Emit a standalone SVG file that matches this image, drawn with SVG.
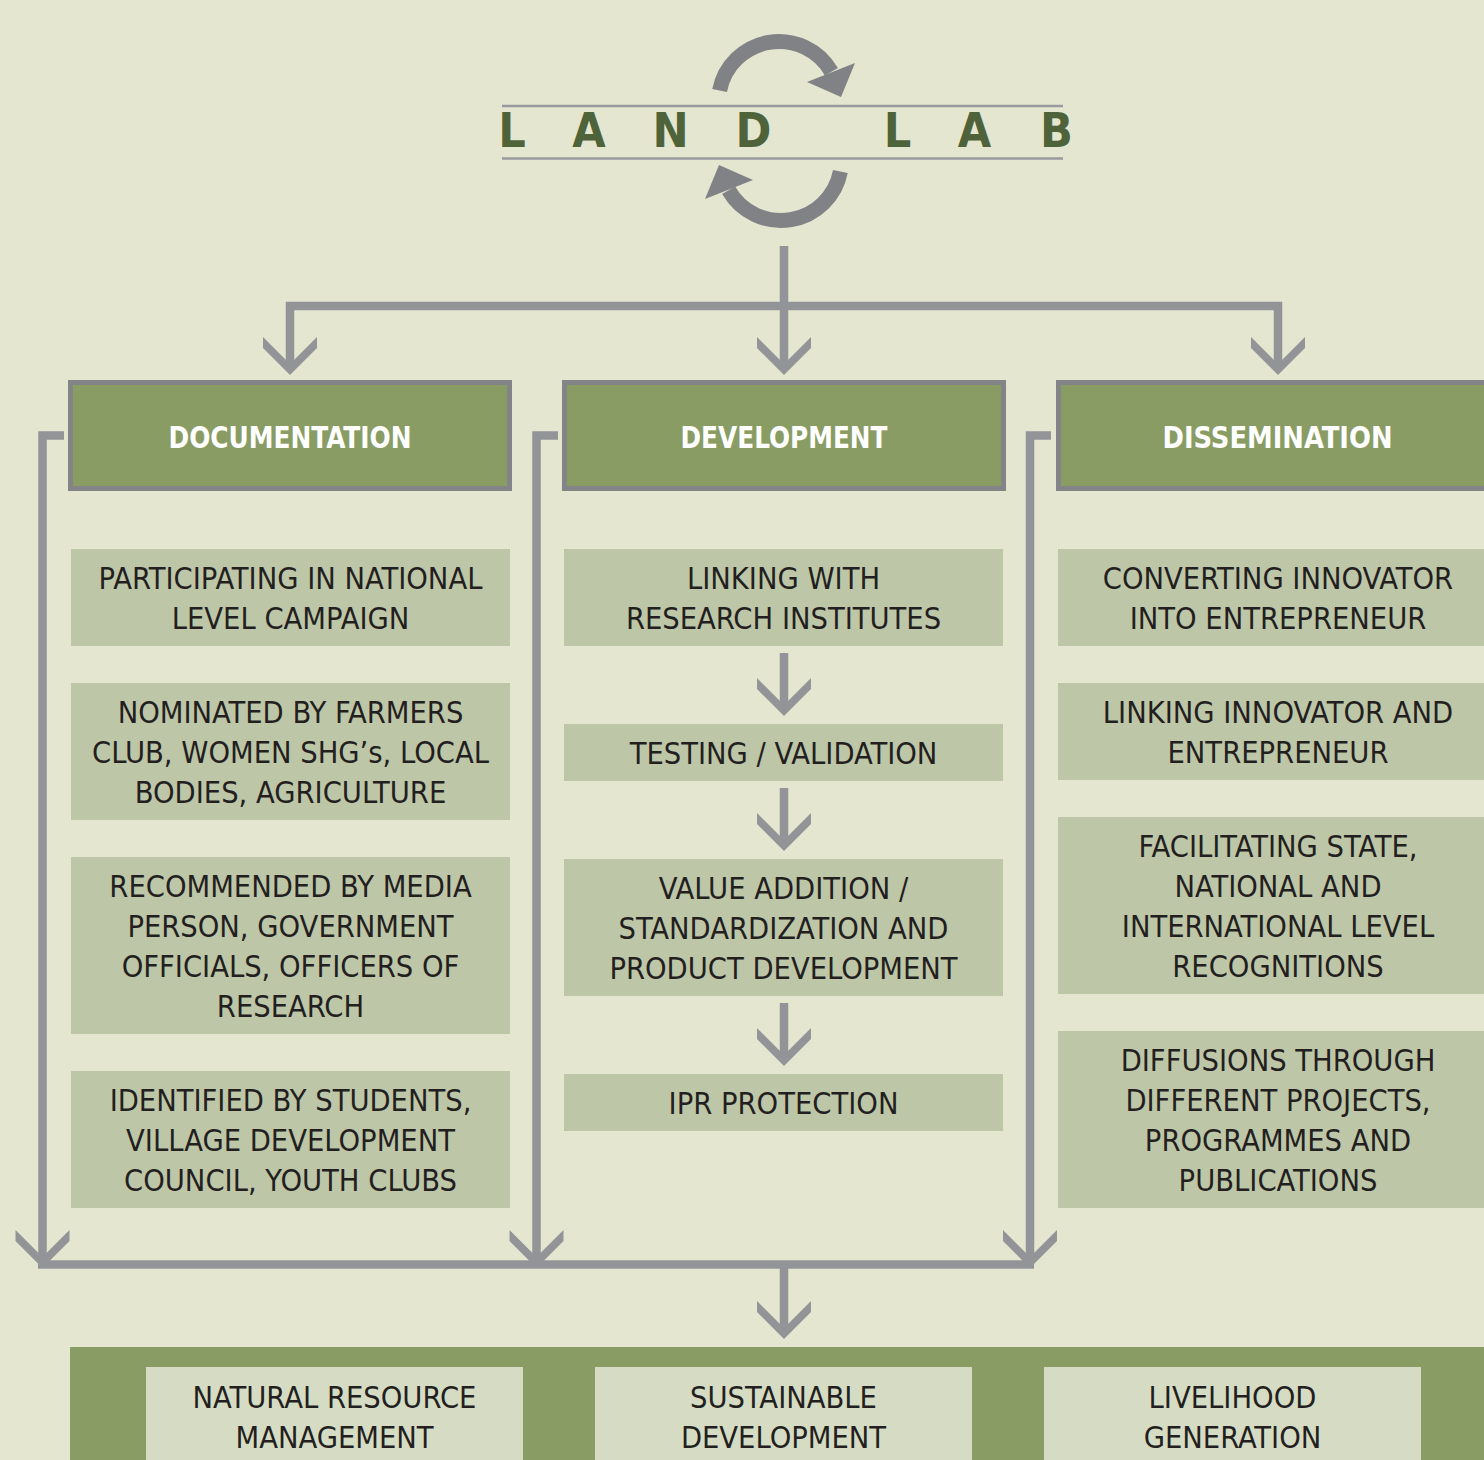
<svg xmlns="http://www.w3.org/2000/svg" width="1484" height="1460" viewBox="0 0 1484 1460">
<style>
.bg{fill:#e4e6d0}
.hdr{fill:#899c63;stroke:#838488;stroke-width:5}
.box{fill:#bec6a8}
.band{fill:#899c63}
.out{fill:#d6dcc4}
.ln{stroke:#939498;stroke-width:8.5;fill:none}
.ah{fill:#939498}
.arc{stroke:#818286;stroke-width:15;fill:none}
.arch{fill:#818286}
.rule{stroke:#999a9d;stroke-width:2.5}
.t{font-family:"DejaVu Sans Condensed","DejaVu Sans",sans-serif;font-stretch:condensed;font-size:30.5px;fill:#231f20;text-anchor:middle}
.h{font-family:"DejaVu Sans Condensed","DejaVu Sans",sans-serif;font-stretch:condensed;font-weight:bold;font-size:31px;fill:#ffffff;text-anchor:middle}
.logo{font-family:"DejaVu Sans Condensed","DejaVu Sans",sans-serif;font-stretch:condensed;font-weight:bold;font-size:48px;fill:#4e6339;text-anchor:middle}
</style>
<defs>
<polygon id="chev" class="ah" points="-27,-38 0,-11 27,-38 27,-27 0,0 -27,-27"/>
</defs>
<rect class="bg" x="0" y="0" width="1484" height="1460"/>

<g id="logo">
<line class="rule" x1="502" y1="106" x2="1063" y2="106"/>
<line class="rule" x1="502" y1="158.5" x2="1063" y2="158.5"/>
<text class="logo" x="512 589 670.5 753.5 897.5 974.5 1056.5" y="147">LANDLAB</text>
<g id="cycle-top">
<path class="arc" d="M719.6 90.5 A60.5 60.5 0 0 1 831.4 71.75"/>
<polygon class="arch" points="807,82 855,63 841,97"/>
</g>
<g id="cycle-bottom" transform="rotate(180 780 131)">
<path class="arc" d="M719.6 90.5 A60.5 60.5 0 0 1 831.4 71.75"/>
<polygon class="arch" points="807,82 855,63 841,97"/>
</g>
</g>

<g id="connectors">
<line class="ln" x1="784" y1="246" x2="784" y2="306"/>
<polyline class="ln" points="290,366 290,306 1278,306 1278,366"/>
<line class="ln" x1="784" y1="306" x2="784" y2="366"/>
<use href="#chev" x="290" y="375"/>
<use href="#chev" x="784" y="375"/>
<use href="#chev" x="1278" y="375"/>

<polyline class="ln" points="64,435.5 42.5,435.5 42.5,1260"/>
<polyline class="ln" points="558,435.5 536.5,435.5 536.5,1260"/>
<polyline class="ln" points="1051,435.5 1030,435.5 1030,1260"/>
<line class="ln" x1="38" y1="1264.5" x2="1034" y2="1264.5"/>
<use href="#chev" x="42.5" y="1268"/>
<use href="#chev" x="536.5" y="1268"/>
<use href="#chev" x="1030" y="1268"/>
<line class="ln" x1="784" y1="1264" x2="784" y2="1330"/>
<use href="#chev" x="784" y="1339"/>

<line class="ln" x1="784" y1="653" x2="784" y2="707"/>
<use href="#chev" x="784" y="716"/>
<line class="ln" x1="784" y1="788" x2="784" y2="842"/>
<use href="#chev" x="784" y="851"/>
<line class="ln" x1="784" y1="1003" x2="784" y2="1057"/>
<use href="#chev" x="784" y="1066"/>
</g>

<g id="documentation">
<rect class="hdr" x="70.5" y="382.5" width="439" height="106"/>
<text class="h" x="290" y="448" textLength="243" lengthAdjust="spacingAndGlyphs">DOCUMENTATION</text>
</g>
<g id="development">
<rect class="hdr" x="564.5" y="382.5" width="439" height="106"/>
<text class="h" x="784" y="448" textLength="207" lengthAdjust="spacingAndGlyphs">DEVELOPMENT</text>
</g>
<g id="dissemination">
<rect class="hdr" x="1058.5" y="382.5" width="439" height="106"/>
<text class="h" x="1277.5" y="448" textLength="230" lengthAdjust="spacingAndGlyphs">DISSEMINATION</text>
</g>

<g id="doc-1">
<rect class="box" x="71" y="549" width="439" height="97"/>
<text class="t" x="290.5" y="589">PARTICIPATING IN NATIONAL</text>
<text class="t" x="290.5" y="629">LEVEL CAMPAIGN</text>
</g>
<g id="doc-2">
<rect class="box" x="71" y="683" width="439" height="137"/>
<text class="t" x="290.5" y="723">NOMINATED BY FARMERS</text>
<text class="t" x="290.5" y="763">CLUB, WOMEN SHG’s, LOCAL</text>
<text class="t" x="290.5" y="803">BODIES, AGRICULTURE</text>
</g>
<g id="doc-3">
<rect class="box" x="71" y="857" width="439" height="177"/>
<text class="t" x="290.5" y="897">RECOMMENDED BY MEDIA</text>
<text class="t" x="290.5" y="937">PERSON, GOVERNMENT</text>
<text class="t" x="290.5" y="977">OFFICIALS, OFFICERS OF</text>
<text class="t" x="290.5" y="1017">RESEARCH</text>
</g>
<g id="doc-4">
<rect class="box" x="71" y="1071" width="439" height="137"/>
<text class="t" x="290.5" y="1111">IDENTIFIED BY STUDENTS,</text>
<text class="t" x="290.5" y="1151">VILLAGE DEVELOPMENT</text>
<text class="t" x="290.5" y="1191">COUNCIL, YOUTH CLUBS</text>
</g>

<g id="dev-1">
<rect class="box" x="564" y="549" width="439" height="97"/>
<text class="t" x="783.5" y="589">LINKING WITH</text>
<text class="t" x="783.5" y="629">RESEARCH INSTITUTES</text>
</g>
<g id="dev-2">
<rect class="box" x="564" y="724" width="439" height="57"/>
<text class="t" x="783.5" y="764">TESTING / VALIDATION</text>
</g>
<g id="dev-3">
<rect class="box" x="564" y="859" width="439" height="137"/>
<text class="t" x="783.5" y="899">VALUE ADDITION /</text>
<text class="t" x="783.5" y="939">STANDARDIZATION AND</text>
<text class="t" x="783.5" y="979">PRODUCT DEVELOPMENT</text>
</g>
<g id="dev-4">
<rect class="box" x="564" y="1074" width="439" height="57"/>
<text class="t" x="783.5" y="1114">IPR PROTECTION</text>
</g>

<g id="dis-1">
<rect class="box" x="1058" y="549" width="440" height="97"/>
<text class="t" x="1278" y="589">CONVERTING INNOVATOR</text>
<text class="t" x="1278" y="629">INTO ENTREPRENEUR</text>
</g>
<g id="dis-2">
<rect class="box" x="1058" y="683" width="440" height="97"/>
<text class="t" x="1278" y="723">LINKING INNOVATOR AND</text>
<text class="t" x="1278" y="763">ENTREPRENEUR</text>
</g>
<g id="dis-3">
<rect class="box" x="1058" y="817" width="440" height="177"/>
<text class="t" x="1278" y="857">FACILITATING STATE,</text>
<text class="t" x="1278" y="897">NATIONAL AND</text>
<text class="t" x="1278" y="937">INTERNATIONAL LEVEL</text>
<text class="t" x="1278" y="977">RECOGNITIONS</text>
</g>
<g id="dis-4">
<rect class="box" x="1058" y="1031" width="440" height="177"/>
<text class="t" x="1278" y="1071">DIFFUSIONS THROUGH</text>
<text class="t" x="1278" y="1111">DIFFERENT PROJECTS,</text>
<text class="t" x="1278" y="1151">PROGRAMMES AND</text>
<text class="t" x="1278" y="1191">PUBLICATIONS</text>
</g>

<g id="outcomes">
<rect class="band" x="70" y="1347" width="1414" height="113"/>
<g id="out-nrm">
<rect class="out" x="146" y="1367" width="377" height="93"/>
<text class="t" x="334.5" y="1408">NATURAL RESOURCE</text>
<text class="t" x="334.5" y="1448">MANAGEMENT</text>
</g>
<g id="out-sd">
<rect class="out" x="595" y="1367" width="377" height="93"/>
<text class="t" x="783.5" y="1408">SUSTAINABLE</text>
<text class="t" x="783.5" y="1448">DEVELOPMENT</text>
</g>
<g id="out-lg">
<rect class="out" x="1044" y="1367" width="377" height="93"/>
<text class="t" x="1232.5" y="1408">LIVELIHOOD</text>
<text class="t" x="1232.5" y="1448">GENERATION</text>
</g>
</g>
</svg>
